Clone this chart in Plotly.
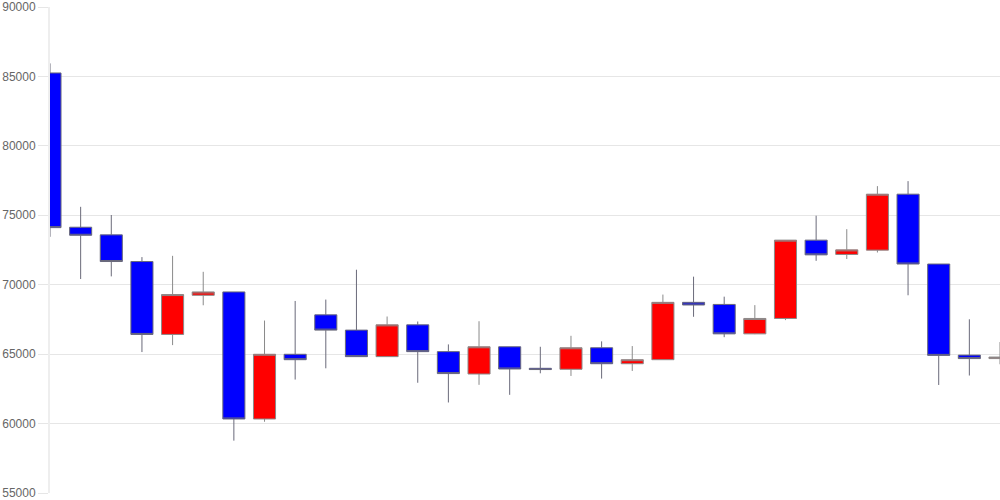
import plotly.graph_objects as go

# -------------------------
# DATA
# -------------------------
days = list(range(32))

opens = [85250, 74140, 73590, 71670, 66420, 69240, 69480, 60330,
         64990, 67830, 66730, 64820, 67110, 65180, 63570, 65530,
         63980, 63910, 65460, 64310, 64600, 68730, 68580, 66460,
         67570, 73210, 72180, 72490, 76520, 71490, 64930, 64680]
highs = [85940, 75610, 75020, 71990, 72080, 70930, 69480, 67420,
         68830, 68930, 71080, 67710, 67350, 65700, 67370, 65530,
         65530, 66320, 65920, 65580, 69290, 70580, 69140, 68530,
         73210, 74970, 74000, 77100, 77460, 71490, 67510, 65870]
lows = [73450, 70410, 70600, 65150, 65650, 68520, 58770, 60130,
        63170, 63980, 64800, 64800, 62940, 61520, 62790, 62070,
        63620, 63430, 63240, 63790, 64580, 67690, 66220, 66440,
        67450, 71720, 71850, 72320, 69240, 62780, 63460, 64270]
closes = [74110, 73560, 71670, 66420, 69290, 69480, 60330, 64990,
          64600, 66730, 64820, 67110, 65180, 63600, 65530, 63930,
          63890, 65460, 64310, 64600, 68730, 68540, 66460, 67570,
          73210, 72150, 72510, 76520, 71490, 64910, 64680, 64790]

y_ticks = [55000, 60000, 65000, 70000, 75000, 80000, 85000, 90000]

# -------------------------
# FIGURE
# -------------------------
fig = go.Figure()

fig.add_trace(
    go.Candlestick(
        x=days,
        open=opens,
        high=highs,
        low=lows,
        close=closes,
        increasing=dict(fillcolor="#ff0000", line=dict(color="#8a8a8a", width=1)),
        decreasing=dict(fillcolor="#0000ff", line=dict(color="#6a6a7a", width=1)),
        whiskerwidth=0,
        showlegend=False,
        hoverinfo="skip",
    )
)

# -------------------------
# STYLE
# -------------------------
fig.update_layout(
    autosize=True,
    paper_bgcolor="white",
    plot_bgcolor="white",
    margin=dict(l=50, r=0, t=6, b=6),
    boxgap=0.28,
    boxgroupgap=0,
    font=dict(family="Liberation Sans, Arial, sans-serif", size=12, color="#666666"),
    xaxis=dict(
        range=[0, 31],
        showticklabels=False,
        showgrid=False,
        zeroline=False,
        showline=False,
        rangeslider=dict(visible=False),
    ),
    yaxis=dict(
        range=[55000, 90000],
        tickvals=y_ticks,
        ticktext=[str(v) for v in y_ticks],
        ticklabeloverflow="allow",
        showgrid=True,
        gridcolor="#e6e6e6",
        gridwidth=1,
        zeroline=False,
        showline=True,
        linecolor="#eeeeee",
        linewidth=2,
        ticks="outside",
        ticklen=10,
        tickcolor="#e6e6e6",
        tickfont=dict(size=12, color="#666666"),
    ),
)

# drop the default page margin so the plot fills the window
fig.write_html(
    "out.html",
    config={"displayModeBar": False},
    default_width="100vw",
    default_height="100vh",
    post_script="document.body.style.margin='0';window.dispatchEvent(new Event('resize'));",
)
